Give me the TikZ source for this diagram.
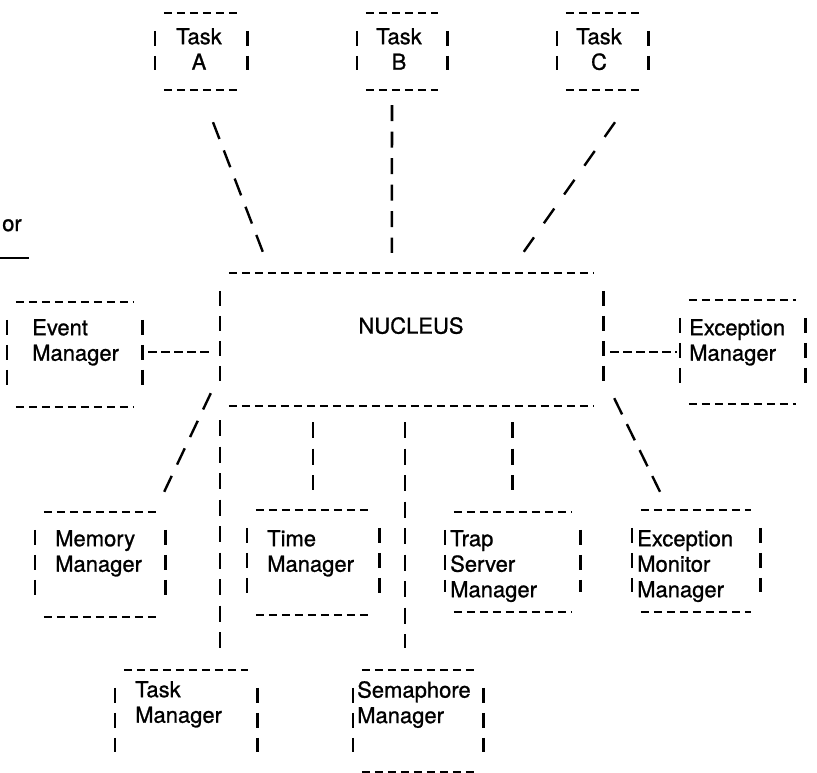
\documentclass[tikz,border=0pt]{standalone}
\usepackage{fontspec}
\setmainfont{TeX Gyre Heros}
\newfontfamily\boxfont{TeX Gyre Heros}[FakeBold=0.9]

\begin{document}
\begin{tikzpicture}[x=1pt, y=-1pt,
        frame/.style={draw=none, inner sep=0pt},
        lbl/.style={anchor=north west, inner sep=0pt, align=left,
                    font=\boxfont\fontsize{22}{25.5}\selectfont},
        tlbl/.style={lbl, anchor=north, align=center},
        hline/.style={line width=2.4pt, dash pattern=on 8.5pt off 4.5pt},
        vline/.style={line width=2.6pt, dash pattern=on 15pt off 10pt},
        cline/.style={line width=2.6pt, dash pattern=on 16pt off 10.5pt},
        sline/.style={line width=2.4pt, dash pattern=on 18pt off #1}]
      \useasboundingbox (0,0) rectangle (817,773);
      \node[frame, minimum width=92,  minimum height=77]  (ta)    at (201,51.5)   {};
      \node[frame, minimum width=90,  minimum height=77]  (tb)    at (402,51.5)   {};
      \node[frame, minimum width=91,  minimum height=77]  (tc)    at (602.5,51.5) {};
      \node[frame, minimum width=383, minimum height=133] (nuc)   at (411.5,339.5) {};
      \node[frame, minimum width=135, minimum height=105] (evt)   at (74.5,354.5) {};
      \node[frame, minimum width=125, minimum height=104] (exm)   at (742.5,352)  {};
      \node[frame, minimum width=130, minimum height=105] (mem)   at (100,564.5)  {};
      \node[frame, minimum width=132, minimum height=105] (tim)   at (313,562.5)  {};
      \node[frame, minimum width=135, minimum height=100] (trp)   at (512.5,562)  {};
      \node[frame, minimum width=128, minimum height=102] (exmon) at (696,561)    {};
      \node[frame, minimum width=142, minimum height=102] (tmg)   at (186,721)    {};
      \node[frame, minimum width=130, minimum height=102] (sem)   at (418,721)    {};
      \node[tlbl] (ta-t)    at (199,28)  {Task\\A};
      \node[tlbl] (tb-t)    at (399,28)  {Task\\B};
      \node[tlbl] (tc-t)    at (599,28)  {Task\\C};
      \node[tlbl] (nuc-t)   at (411,317) {NUCLEUS};
      \node[lbl]  (evt-t)   at (32,319)  {Event\\Manager};
      \node[lbl]  (exm-t)   at (689,319) {Exception\\Manager};
      \node[lbl]  (mem-t)   at (55,530)  {Memory\\Manager};
      \node[lbl]  (tim-t)   at (267,530) {Time\\Manager};
      \node[lbl]  (trp-t)   at (450,530) {Trap\\Server\\Manager};
      \node[lbl]  (exmon-t) at (637,530) {Exception\\Monitor\\Manager};
      \node[lbl]  (tmg-t)   at (135,681) {Task\\Manager};
      \node[lbl]  (sem-t)   at (357,681) {Semaphore\\Manager};
      \node[lbl]  (or)      at (2,219)   {or};
      \draw[line width=2pt] (0,258) -- (29,258);
      \foreach \b in {ta,tb,tc,nuc,evt,exm,mem,tim,trp,exmon,tmg,sem} {
        \draw[hline] ([xshift=9pt]\b.north west) -- ([xshift=-9pt]\b.north east);
        \draw[vline] ([yshift=-18pt]\b.north west) -- ([yshift=20pt]\b.south west);
        \draw[vline] ([yshift=-18pt]\b.north east) -- ([yshift=20pt]\b.south east);
      }
      \foreach \b in {ta,tb,tc,nuc,evt,exm,mem,tim,trp,exmon,sem}
        \draw[hline] ([xshift=9pt]\b.south west) -- ([xshift=-9pt]\b.south east);
      \draw[sline=12.2pt] ([shift={(12pt,-32pt)}]ta.south) -- ([shift={(43pt,21pt)}]nuc.north west);
      \draw[cline] ([shift={(-10pt,-15pt)}]tb.south) -- ([shift={(172pt,20pt)}]nuc.north west);
      \draw[sline=17.2pt] ([shift={(12.5pt,-32pt)}]tc.south) -- ([shift={(304pt,21pt)}]nuc.north west);
      \draw[hline] ([shift={(6pt,2.5pt)}]evt.east) -- ([shift={(-7pt,-12.5pt)}]nuc.west);
      \draw[hline] ([shift={(7pt,-12.5pt)}]nuc.east) -- ([xshift=-3pt]exm.west);
      \draw[sline=12.5pt] ([shift={(-9pt,13pt)}]nuc.south west) -- ([shift={(-1pt,20pt)}]mem.north east);
      \draw[cline, shorten <=14pt, shorten >=22pt] (nuc.south west) -- (nuc.south west |- tmg.north);
      \draw[cline, shorten <=16pt, shorten >=20pt] (tim.north |- nuc.south) -- (tim.north);
      \draw[cline] ([shift={(-6.5pt,-16pt)}]nuc.south) -- ([shift={(-13pt,22pt)}]sem.north);
      \draw[cline, shorten <=16pt, shorten >=22pt] (trp.north |- nuc.south) -- (trp.north);
      \draw[sline=10.9pt] ([shift={(11pt,8pt)}]nuc.south east) -- ([shift={(-36pt,18pt)}]exmon.north);
    \end{tikzpicture}
\end{document}
